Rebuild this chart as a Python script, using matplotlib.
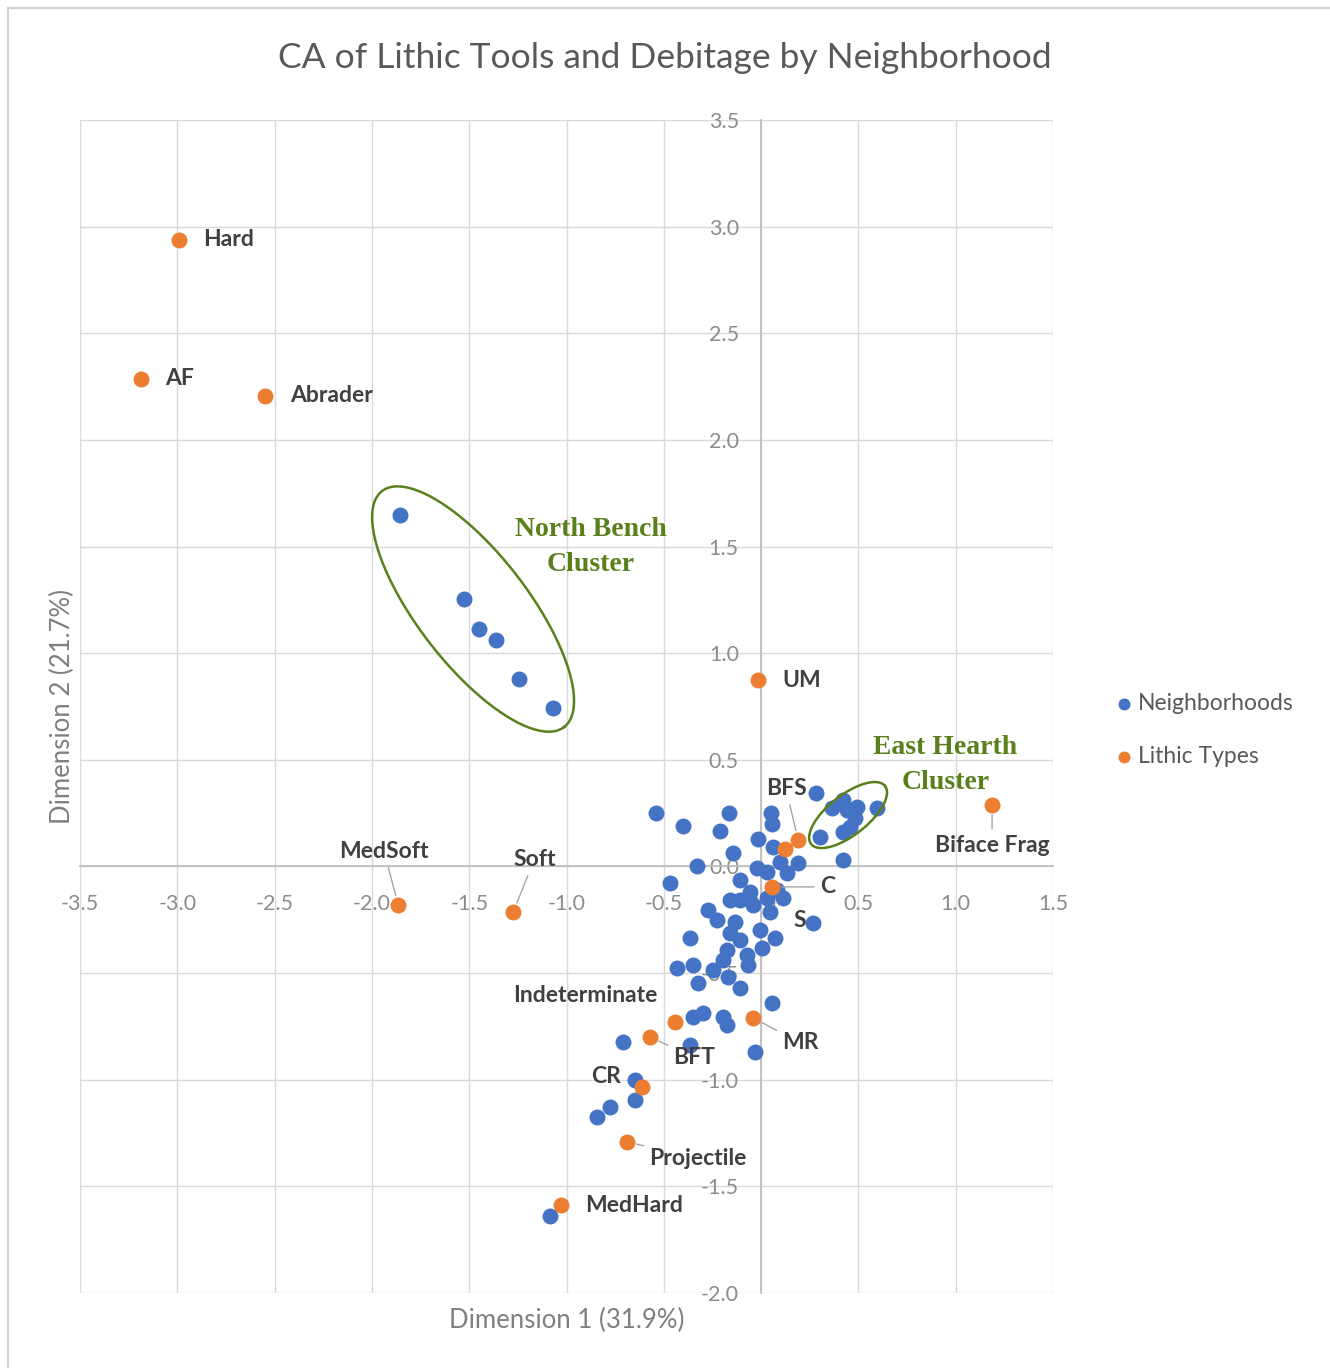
import numpy as np
import matplotlib
matplotlib.use("Agg")
import matplotlib.pyplot as plt
from matplotlib.lines import Line2D

plt.rcParams['font.family'] = ['Lato', 'DejaVu Sans']
plt.rcParams['axes.unicode_minus'] = False

# Neighborhoods (dimension 1, dimension 2)
hood_x = [-1.855, -1.526, -1.449, -1.362, -1.244, -1.069,
          0.365, 0.421, 0.442, 0.493, 0.596, 0.483, 0.457, 0.421, 0.303, 0.283, 0.421,
          -0.540, -0.401, -0.164, -0.211, 0.051, 0.057, -0.015, -0.144, 0.062, 0.190,
          -0.329, -0.468, -0.021, 0.031, 0.098, 0.134, -0.108, -0.057, -0.159, -0.108,
          -0.041, 0.031, 0.113, 0.082, 0.046, -0.272, -0.226, -0.134, 0.267, -0.365,
          -0.159, -0.108, -0.005, 0.072, 0.005, -0.175, -0.072, -0.195, -0.067, -0.432,
          -0.349, -0.247, -0.170, -0.324, -0.108,
          0.057, -0.349, -0.298, -0.195, -0.175, -0.031, -0.365, -0.709, -0.647, -0.647,
          -0.776, -0.843, -1.084]
hood_y = [1.648, 1.255, 1.115, 1.063, 0.880, 0.744,
          0.274, 0.312, 0.265, 0.279, 0.274, 0.227, 0.185, 0.162, 0.139, 0.345, 0.030,
          0.251, 0.190, 0.251, 0.166, 0.251, 0.199, 0.129, 0.063, 0.091, 0.016,
          0.002, -0.077, -0.007, -0.026, 0.021, -0.030, -0.063, -0.120, -0.157, -0.157,
          -0.181, -0.148, -0.148, -0.110, -0.213, -0.204, -0.251, -0.260, -0.265, -0.335,
          -0.312, -0.345, -0.298, -0.335, -0.382, -0.391, -0.415, -0.438, -0.462, -0.476,
          -0.462, -0.485, -0.518, -0.546, -0.570,
          -0.640, -0.706, -0.687, -0.706, -0.743, -0.870, -0.837, -0.823, -1.001, -1.095,
          -1.128, -1.175, -1.639]

# Lithic types
lith_names = ["Hard", "AF", "Abrader", "UM", "MedSoft", "Soft", "BFS", "", "C",
              "Indeterminate", "BFT", "MR", "CR", "Projectile", "MedHard", "Biface Frag"]
lith_x = [-2.991, -3.186, -2.549, -0.015, -1.865, -1.274, 0.190, 0.123, 0.057,
          -0.442, -0.570, -0.041, -0.612, -0.689, -1.028, 1.187]
lith_y = [2.939, 2.287, 2.207, 0.874, -0.180, -0.213, 0.125, 0.082, -0.096,
          -0.729, -0.799, -0.710, -1.034, -1.292, -1.588, 0.288]

# label offsets in pixels, alignment, leader line
lab_off = {
    "Hard": (24, 0, 'left', False), "AF": (24, 0, 'left', False),
    "Abrader": (25, 0, 'left', False), "UM": (24, 0, 'left', False),
    "MedSoft": (-14, 53, 'center', True), "Soft": (21, 52, 'center', True),
    "BFS": (-12, 51, 'center', True), "C": (55, 0, 'center', True),
    "Indeterminate": (-90, 26, 'center', False), "BFT": (44, -21, 'center', True),
    "MR": (47, -25, 'center', True), "CR": (-36, 10, 'center', False),
    "Projectile": (71, -16, 'center', True), "MedHard": (24, 0, 'left', False),
    "Biface Frag": (0, -40, 'center', True),
}

blue = '#4472C4'
orange = '#ED7D31'
green = '#5A801C'

fig = plt.figure(figsize=(13.3, 13.68), dpi=100)
ax = fig.add_axes([80/1330, 75/1368, 973/1330, 1173/1368])

ax.scatter(hood_x, hood_y, s=132, color=blue, linewidths=0, zorder=3, label='Neighborhoods')
ax.scatter(lith_x, lith_y, s=132, color=orange, linewidths=0, zorder=4, label='Lithic Types')

for name, x, y in zip(lith_names, lith_x, lith_y):
    if not name:
        continue
    dx, dy, ha, leader = lab_off[name]
    props = None
    if leader:
        props = dict(arrowstyle='-', color='#A6A6A6', lw=1, shrinkA=2, shrinkB=7)
    ax.annotate(name, (x, y), xytext=(dx, dy), textcoords='offset pixels',
                ha=ha, va='center', fontsize=16.5, fontweight='bold', color='#404040',
                arrowprops=props, zorder=5)
ax.text(0.20, -0.255, "S", ha='center', va='center', fontsize=16.5,
        fontweight='bold', color='#404040', zorder=5)

# cluster ellipses
t = np.linspace(0, 2 * np.pi, 200)
for (cx, cy), u, v in [((-1.48, 1.207), (0.468, -0.553), (-0.224, -0.158)),
                       ((0.447, 0.241), (0.190, 0.136), (0.063, -0.074))]:
    ax.plot(cx + u[0] * np.cos(t) + v[0] * np.sin(t),
            cy + u[1] * np.cos(t) + v[1] * np.sin(t),
            color=green, lw=1.8, zorder=6)
ax.text(-0.874, 1.498, "North Bench\nCluster", ha='center', va='center',
        fontsize=20, fontweight='bold', family='Liberation Serif', color=green,
        linespacing=1.5)
ax.text(0.946, 0.476, "East Hearth\nCluster", ha='center', va='center',
        fontsize=20, fontweight='bold', family='Liberation Serif', color=green,
        linespacing=1.5)

ax.set_xlim(-3.5, 1.5)
ax.set_ylim(-2.0, 3.5)
ax.set_xticks(np.arange(-3.5, 1.51, 0.5))
ax.set_yticks(np.arange(-2.0, 3.51, 0.5))
ax.xaxis.set_major_formatter('{x:.1f}')
ax.yaxis.set_major_formatter('{x:.1f}')
ax.set_axisbelow(True)
ax.grid(True, color='#D9D9D9', lw=1)
for s in ['top', 'right']:
    ax.spines[s].set_visible(False)
ax.spines['left'].set_position(('data', 0))
ax.spines['bottom'].set_position(('data', 0))
for s in ['left', 'bottom']:
    ax.spines[s].set_color('#BFBFBF')
    ax.spines[s].set_linewidth(1.3)
ax.tick_params(axis='x', length=0, pad=20, labelsize=15.5, labelcolor='#8C8C8C')
ax.tick_params(axis='y', length=0, pad=16, labelsize=15.5, labelcolor='#8C8C8C')

fig.text(0.5, 1 - 58/1368, "CA of Lithic Tools and Debitage by Neighborhood",
         ha='center', va='center', fontsize=25.5, color='#595959')
fig.text(567/1330, 1 - 1320/1368, "Dimension 1 (31.9%)", ha='center', va='center',
         fontsize=18.5, color='#7F7F7F')
fig.text(62/1330, 1 - 707/1368, "Dimension 2 (21.7%)", ha='center', va='center',
         rotation=90, fontsize=18.5, color='#7F7F7F')

fig.legend(loc='center left', bbox_to_anchor=(1092/1330, 1 - 730/1368),
           frameon=False, fontsize=16.5, labelcolor='#595959', markerscale=0.75,
           handletextpad=0.1, handlelength=1.0, labelspacing=1.4)

# thin frame around the picture
fig.add_artist(Line2D([8/1330, 1], [1 - 8/1368] * 2, color='#D0D0D0', lw=1.5))
fig.add_artist(Line2D([8/1330] * 2, [0, 1 - 8/1368], color='#D0D0D0', lw=1.5))

fig.savefig("out.png", dpi=100)
